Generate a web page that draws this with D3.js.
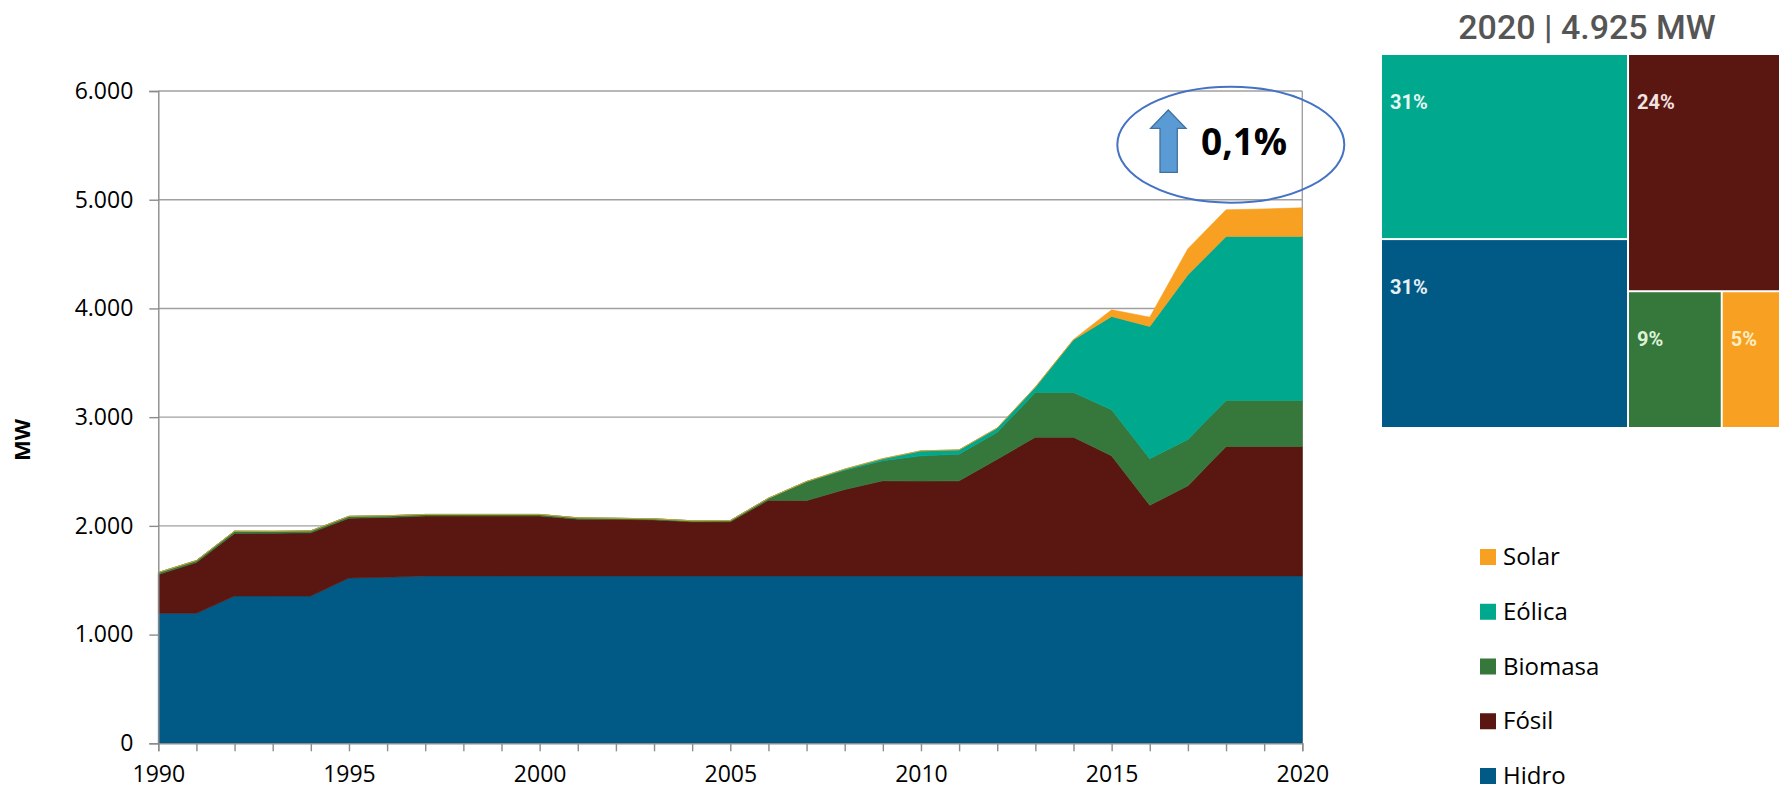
<!DOCTYPE html>
<html><head><meta charset="utf-8">
<script src="https://cdn.jsdelivr.net/npm/d3@7"></script>
<style>
html,body{margin:0;padding:0;background:#fff;}
svg{display:block;}
</style></head>
<body>
<svg id="chart" width="1788" height="792"></svg>
<script>
// ---- Data ----
const years = d3.range(1990, 2021);
const hidro   = [1196,1196,1355,1355,1355,1521,1527,1540,1540,1540,1540,1540,1540,1540,1540,1540,1540,1540,1540,1540,1540,1540,1540,1540,1540,1540,1540,1540,1540,1540,1540];
const fosil   = [356,467,575,577,581,549,551,550,550,550,550,522,520,515,497,497,696,693,795,875,872,874,1073,1276,1276,1104,650,828,1190,1190,1190];
const biomasa = [19,18,21,18,18,18,15,15,15,15,15,12,10,10,10,12,18,175,177,185,232,245,247,410,410,423,428,426,423,423,423];
const eolica  = [0,0,0,0,0,0,0,0,0,0,0,0,0,0,0,0,0,0,10,18,46,40,40,50,485,859,1216,1515,1509,1509,1509];
const solar   = [0,0,0,0,0,0,0,0,0,0,0,0,0,0,0,0,0,0,0,0,0,0,0,0,4,61,86,240,245,253,263];
const seriesNames = ["Hidro","Fósil","Biomasa","Eólica","Solar"];
const legendOrder = ["Solar","Eólica","Biomasa","Fósil","Hidro"];
const yTicks = [0,1000,2000,3000,4000,5000,6000];
const xLabelYears = [1990,1995,2000,2005,2010,2015,2020];
const treemapTitle = "2020 | 4.925 MW";
const share2020 = {"Eólica":31,"Hidro":31,"Fósil":24,"Biomasa":9,"Solar":5};
const annotationText = "0,1%";

const colors = {"Hidro":"#015a85","Fósil":"#5a1712","Biomasa":"#36773c","Eólica":"#00a88e","Solar":"#f7a021"};
const labelColors = {"Hidro":"#e8f0f6","Fósil":"#f4e2e0","Biomasa":"#dff2d8","Eólica":"#e6f7f3","Solar":"#fdeec4"};

const table = years.map((y,i)=>({year:y,"Hidro":hidro[i],"Fósil":fosil[i],"Biomasa":biomasa[i],"Eólica":eolica[i],"Solar":solar[i]}));

const svg = d3.select("#chart");
const font = "'Open Sans', sans-serif";

const x = d3.scaleLinear().domain([1990,2020]).range([158.3,1302.3]);
const y = d3.scaleLinear().domain([0,6000]).range([743.3,91]);

// gridlines
svg.append("g").selectAll("line").data(yTicks.filter(d=>d>0)).join("line")
  .attr("x1",x(1990)).attr("x2",x(2020)).attr("y1",d=>y(d)).attr("y2",d=>y(d))
  .attr("stroke","#a0a0a0").attr("stroke-width",1.4);
// right border
svg.append("line").attr("x1",x(2020)).attr("x2",x(2020)).attr("y1",y(6000)).attr("y2",y(0))
  .attr("stroke","#a0a0a0").attr("stroke-width",1.4);

// stacked areas
const stack = d3.stack().keys(seriesNames);
const layers = stack(table);
const area = d3.area().x(d=>x(d.data.year)).y0(d=>y(d[0])).y1(d=>y(d[1]));
svg.append("g").selectAll("path").data(layers).join("path")
  .attr("d",area).attr("fill",d=>colors[d.key])
  .attr("stroke",d=>colors[d.key]).attr("stroke-width",0.6);

// y axis
const yAxis = d3.axisLeft(y).tickValues(yTicks).tickSize(9).tickPadding(16)
  .tickFormat(d=>d===0?"0":d3.format(",")(d).replace(/,/g,"."));
const gy = svg.append("g").attr("transform",`translate(${x(1990)},0)`).call(yAxis);
gy.select(".domain").attr("stroke","#8c8c8c").attr("stroke-width",1.4);
gy.selectAll(".tick line").attr("stroke","#8c8c8c").attr("stroke-width",1.4);
gy.selectAll(".tick text").attr("font-family",font).attr("font-size",23).attr("fill","#000");

// x axis
const xAxis = d3.axisBottom(x).tickValues(years).tickSize(8).tickPadding(14)
  .tickFormat(d=>xLabelYears.includes(d)?String(d):"");
const gx = svg.append("g").attr("transform",`translate(0,${y(0)})`).call(xAxis);
gx.select(".domain").attr("stroke","#8c8c8c").attr("stroke-width",1.4);
gx.selectAll(".tick line").attr("stroke","#8c8c8c").attr("stroke-width",1.4);
gx.selectAll(".tick text").attr("font-family",font).attr("font-size",23).attr("fill","#000");

// y title
svg.append("text").attr("transform","translate(30,440) rotate(-90)")
  .attr("text-anchor","middle").attr("font-family",font).attr("font-weight","bold")
  .attr("font-size",22).attr("fill","#000").text("MW");

// annotation ellipse + arrow
svg.append("ellipse").attr("cx",1230.8).attr("cy",144.7).attr("rx",113.5).attr("ry",58)
  .attr("fill","none").attr("stroke","#4472c4").attr("stroke-width",2);
svg.append("path").attr("d","M1150.7,128.3 L1168.3,110 L1186,128.3 L1177.3,128.3 L1177.3,172.3 L1160,172.3 L1160,128.3 Z")
  .attr("fill","#5b9bd5").attr("stroke","#41719c").attr("stroke-width",1.3);
svg.append("text").attr("x",1201).attr("y",155).attr("font-family",font).attr("font-weight","bold")
  .attr("font-size",37).attr("fill","#000").text(annotationText);

// treemap
const tmX0 = 1382, tmY0 = 55, tmX1 = 1779, tmY1 = 427;
const v2020 = {};
seriesNames.forEach(k=>v2020[k]=table[table.length-1][k]);
const hierarchyData = {name:"root",children:[
  {name:"left",children:[{name:"Eólica",value:v2020["Eólica"]},{name:"Hidro",value:v2020["Hidro"]}]},
  {name:"right",children:[{name:"Fósil",value:v2020["Fósil"]},
     {name:"bottom",children:[{name:"Biomasa",value:v2020["Biomasa"]},{name:"Solar",value:v2020["Solar"]}]}]}
]};
const root = d3.hierarchy(hierarchyData).sum(d=>d.value||0);
d3.treemap().tile(d3.treemapSliceDice).size([tmX1-tmX0,tmY1-tmY0]).paddingInner(2).round(false)(root);
const tm = svg.append("g").attr("transform",`translate(${tmX0},${tmY0})`);
const leaves = root.leaves();
tm.selectAll("rect").data(leaves).join("rect")
  .attr("x",d=>d.x0).attr("y",d=>d.y0).attr("width",d=>d.x1-d.x0).attr("height",d=>d.y1-d.y0)
  .attr("fill",d=>colors[d.data.name]);
tm.selectAll("text").data(leaves).join("text")
  .attr("x",d=>d.x0+8).attr("y",d=>d.y0+54)
  .attr("font-family","Roboto, sans-serif").attr("font-weight","bold").attr("font-size",20)
  .attr("fill",d=>labelColors[d.data.name]).text(d=>share2020[d.data.name]+"%");
svg.append("text").attr("x",1587).attr("y",39).attr("text-anchor","middle")
  .attr("font-family","Roboto, sans-serif").attr("font-weight",500).attr("font-size",34)
  .attr("fill","#555555").text(treemapTitle);

// legend
const lg = svg.append("g");
const legendTops = d3.scalePoint().domain(legendOrder).range([549,768]);
legendOrder.forEach(k=>{
  lg.append("rect").attr("x",1480).attr("y",legendTops(k)).attr("width",16).attr("height",16).attr("fill",colors[k]);
  lg.append("text").attr("x",1503).attr("y",legendTops(k)+16).attr("font-family",font)
    .attr("font-size",24).attr("fill","#000").text(k);
});
</script>
</body></html>
